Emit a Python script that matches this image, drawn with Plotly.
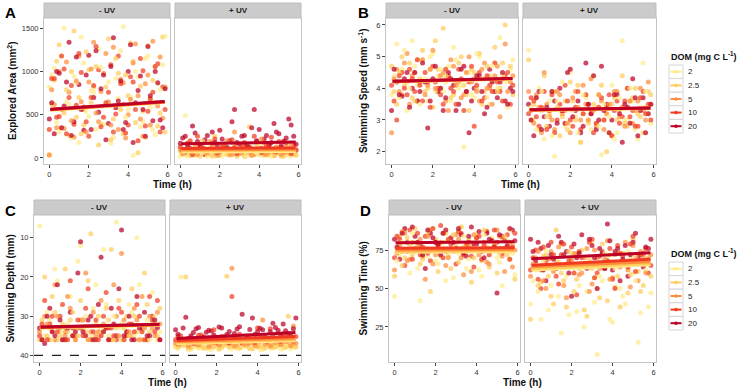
import plotly.graph_objects as go

W, H = 743, 390

dom_levels = ["2", "2.5", "5", "10", "20"]
dom_colors = ["#FFEB8A", "#FECC5C", "#FD8D3C", "#F03B20", "#BD0026"]

# measurement times (h) for the two replicate series
times = [0.0, 0.25, 0.5, 0.75, 1.0, 1.25, 1.5, 1.75, 2.0, 2.25, 2.5, 2.75,
         3.0, 3.25, 3.5, 3.75, 4.0, 4.25, 4.5, 4.75, 5.0, 5.25, 5.5, 5.75]
times_b = [0.12, 0.37, 0.62, 0.87, 1.12, 1.37, 1.62, 1.87, 2.12, 2.37, 2.62, 2.87,
           3.12, 3.37, 3.62, 3.87, 4.12, 4.37, 4.62, 4.87, 5.12, 5.37, 5.62, 5.87]
fit_times = [0.05, 5.85]

# ---------------- A: Explored area (mm2) ----------------
area_minus = {
    "2":   [820, 1040, 300, 1500, 620, 950, 180, 1100, 480, 760, 1260, 390, 880, 240, 690, 1520, 560, 30, 940, 420, 1180, 330, 860, 1080],
    "2.5": [40, 900, 1310, 520, 260, 1470, 700, 380, 1020, 820, 150, 600, 1380, 450, 980, 280, 720, 1120, 60, 540, 1300, 900, 370, 1400],
    "5":   [30, 620, 1000, 340, 760, 240, 1180, 560, 880, 1340, 420, 980, 650, 1280, 330, 870, 500, 1100, 720, 250, 960, 1350, 600, 460],
    "10":  [330, 920, 480, 1030, 700, 390, 1210, 590, 250, 840, 1020, 470, 760, 300, 1180, 620, 380, 880, 200, 1010, 540, 760, 1090, 820],
    "20":  [450, 280, 980, 600, 1340, 420, 850, 320, 1190, 700, 530, 960, 400, 1390, 660, 330, 1000, 180, 780, 560, 1290, 430, 870, 350],
}
area_minus_b = {
    "2":   [960, 410, 1180, 650, 230, 870, 1400, 540, 780, 330, 1050, 620, 170, 920, 1240, 470, 700, 1000, 360, 1150, 590, 270, 790, 1410],
    "2.5": [620, 1120, 350, 790, 1000, 470, 280, 1230, 640, 1060, 390, 820, 210, 1150, 560, 960, 1330, 410, 830, 240, 690, 1060, 520, 300],
    "5":   [790, 350, 560, 1110, 430, 890, 650, 300, 1030, 520, 770, 1210, 380, 600, 910, 230, 680, 1320, 450, 860, 380, 640, 1170, 820],
    "10":  [920, 470, 1180, 280, 840, 610, 990, 420, 700, 1290, 360, 640, 1080, 510, 860, 290, 940, 560, 1150, 370, 680, 1060, 300, 560],
    "20":  [640, 1000, 350, 880, 260, 1170, 560, 960, 330, 1240, 800, 210, 1060, 580, 890, 410, 1310, 640, 950, 250, 720, 1000, 440, 800],
}
area_plus = {
    "2":   [20, 490, 60, 30, 90, 40, 120, 20, 70, 50, 30, 100, 60, 20, 80, 40, 150, 30, 60, 20, 90, 50, 30, 70],
    "2.5": [80, 40, 180, 60, 20, 110, 50, 250, 40, 90, 30, 140, 60, 20, 360, 80, 40, 100, 30, 60, 120, 20, 50, 90],
    "5":   [100, 60, 30, 150, 80, 40, 190, 60, 30, 120, 70, 300, 50, 90, 130, 40, 80, 170, 60, 30, 110, 200, 70, 40],
    "10":  [130, 60, 200, 90, 150, 40, 100, 220, 70, 160, 50, 120, 90, 180, 60, 250, 100, 40, 140, 80, 190, 60, 110, 150],
    "20":  [170, 250, 110, 290, 140, 210, 90, 180, 320, 130, 200, 560, 160, 260, 120, 560, 330, 220, 150, 400, 280, 190, 450, 250],
}
area_plus_b = {
    "2":   [40, 20, 80, 30, 60, 20, 90, 40, 20, 130, 50, 30, 70, 20, 100, 60, 30, 80, 20, 50, 30, 60, 20, 40],
    "2.5": [60, 120, 30, 80, 200, 50, 20, 90, 150, 40, 70, 20, 110, 60, 30, 160, 70, 30, 90, 50, 20, 130, 80, 30],
    "5":   [50, 170, 90, 40, 110, 60, 140, 30, 90, 200, 40, 80, 60, 150, 30, 100, 220, 50, 90, 130, 40, 70, 150, 100],
    "10":  [90, 170, 40, 250, 120, 80, 170, 60, 130, 90, 210, 50, 150, 110, 80, 190, 60, 140, 240, 70, 120, 170, 50, 90],
    "20":  [230, 140, 370, 190, 100, 260, 300, 150, 220, 120, 420, 180, 250, 140, 350, 200, 110, 260, 180, 300, 140, 230, 380, 160],
}
area_fit_minus = {"2": (552, 642), "2.5": (555, 645), "5": (557, 647), "10": (560, 650), "20": (563, 653)}
area_fit_plus = {"2": (68, 74), "2.5": (84, 88), "5": (95, 100), "10": (110, 116), "20": (163, 185)}

# ---------------- B: Swimming speed (mm s-1) ----------------
speed_minus = {
    "2":   [3.8, 5.4, 4.6, 3.3, 5.5, 4.1, 4.9, 3.6, 5.1, 4.4, 3.9, 4.7, 5.3, 4.0, 2.15, 4.5, 3.7, 5.0, 4.3, 3.5, 4.8, 5.6, 4.2, 4.6],
    "2.5": [4.7, 3.5, 5.0, 4.2, 3.7, 4.9, 5.2, 4.0, 3.4, 4.6, 5.9, 4.3, 3.8, 4.8, 4.1, 3.3, 4.5, 5.1, 3.9, 4.4, 5.3, 4.0, 6.0, 4.7],
    "5":   [2.6, 4.6, 3.8, 5.1, 4.4, 3.6, 4.9, 4.1, 5.2, 3.9, 4.5, 3.3, 4.7, 4.2, 3.8, 5.0, 4.3, 3.6, 4.8, 4.0, 4.4, 3.1, 5.4, 4.2],
    "10":  [4.1, 3.0, 4.5, 3.8, 4.3, 4.9, 3.6, 4.2, 4.7, 4.0, 3.5, 4.4, 3.9, 4.6, 3.3, 4.2, 2.8, 4.5, 3.7, 4.1, 4.8, 3.9, 4.4, 3.5],
    "20":  [3.3, 4.2, 3.75, 4.5, 4.0, 3.6, 4.8, 2.75, 4.3, 3.9, 3.3, 4.5, 4.1, 3.5, 4.7, 2.6, 4.0, 4.4, 3.2, 4.6, 3.9, 4.2, 3.6, 4.0],
}
speed_minus_b = {
    "2":   [4.4, 3.7, 5.2, 4.0, 4.7, 3.5, 4.3, 5.0, 3.9, 4.6, 4.2, 3.6, 4.9, 4.1, 4.5, 3.8, 5.1, 4.3, 3.7, 4.7, 4.0, 4.4, 3.4, 4.9],
    "2.5": [3.9, 4.5, 4.1, 4.8, 3.6, 4.3, 3.9, 4.6, 5.5, 4.0, 4.4, 3.7, 4.2, 5.0, 3.8, 4.6, 4.0, 3.5, 4.7, 4.2, 3.9, 4.8, 4.3, 3.8],
    "5":   [4.3, 3.9, 4.8, 3.5, 4.5, 4.2, 3.8, 4.6, 4.0, 4.4, 3.6, 4.9, 4.1, 3.7, 4.5, 4.2, 3.9, 4.6, 4.0, 3.5, 4.7, 4.3, 3.9, 4.4],
    "10":  [3.6, 4.4, 4.0, 4.6, 3.9, 4.1, 4.5, 3.4, 4.2, 3.8, 4.6, 4.0, 3.5, 4.3, 3.9, 4.7, 4.1, 3.6, 4.4, 3.9, 4.2, 3.6, 4.5, 4.1],
    "20":  [4.6, 3.8, 4.3, 3.4, 4.5, 3.9, 4.2, 3.6, 4.7, 4.0, 3.7, 4.3, 3.3, 4.6, 3.9, 3.6, 4.4, 3.9, 3.4, 4.2, 3.7, 4.5, 3.5, 3.9],
}
speed_plus = {
    "2":   [5.2, 3.0, 4.0, 2.4, 3.6, 1.85, 3.3, 2.8, 4.5, 3.1, 2.3, 3.7, 2.7, 3.4, 1.9, 3.2, 4.1, 2.6, 5.5, 3.0, 3.6, 2.4, 4.8, 3.2],
    "2.5": [4.9, 3.5, 2.7, 4.4, 3.2, 3.9, 2.5, 3.6, 4.2, 3.0, 2.3, 3.8, 3.3, 2.9, 4.1, 2.0, 3.5, 3.0, 4.4, 2.8, 3.7, 3.2, 2.6, 3.9],
    "5":   [3.9, 2.9, 3.4, 4.5, 3.1, 2.7, 3.8, 3.3, 2.6, 3.9, 3.0, 3.5, 4.3, 2.8, 3.6, 3.2, 2.5, 3.9, 3.4, 4.0, 2.9, 3.6, 3.3, 4.2],
    "10":  [3.2, 3.6, 2.8, 3.9, 3.3, 2.6, 3.5, 4.1, 3.0, 3.4, 2.7, 3.8, 3.2, 2.9, 3.7, 3.4, 2.5, 3.6, 3.1, 4.0, 3.3, 2.8, 3.9, 3.5],
    "20":  [3.5, 2.5, 3.9, 3.1, 2.8, 3.6, 4.0, 2.9, 4.6, 3.3, 2.6, 4.8, 3.2, 2.7, 4.7, 3.5, 3.0, 3.8, 2.3, 3.4, 4.3, 2.5, 3.7, 3.2],
}
speed_plus_b = {
    "2":   [3.4, 2.7, 3.9, 3.1, 2.5, 3.6, 4.2, 2.9, 3.3, 2.6, 3.8, 3.0, 4.4, 2.8, 3.5, 3.1, 2.4, 3.7, 3.0, 4.0, 2.7, 3.4, 3.9, 2.9],
    "2.5": [3.0, 3.7, 3.3, 2.8, 3.9, 3.4, 3.1, 2.7, 3.6, 4.1, 3.2, 2.9, 3.5, 3.8, 3.0, 2.6, 3.7, 3.3, 2.9, 3.6, 4.0, 3.1, 3.4, 3.8],
    "5":   [3.3, 3.8, 2.6, 3.5, 3.0, 3.9, 3.2, 2.9, 3.7, 3.4, 4.1, 3.0, 3.3, 3.8, 2.7, 3.5, 3.9, 3.1, 2.8, 3.6, 3.3, 4.0, 3.0, 3.5],
    "10":  [3.7, 3.1, 3.4, 2.7, 3.8, 3.0, 3.3, 3.6, 2.8, 3.9, 3.2, 3.5, 2.6, 3.4, 3.0, 3.8, 3.3, 2.9, 3.6, 3.1, 2.8, 3.7, 3.2, 3.0],
    "20":  [3.0, 3.7, 2.7, 3.4, 3.9, 2.9, 3.3, 4.5, 3.1, 3.6, 2.8, 3.5, 4.4, 3.0, 3.3, 2.6, 3.8, 3.2, 3.5, 2.9, 3.7, 3.3, 2.6, 3.5],
}
speed_fit_minus = {"2": (4.20, 4.29), "2.5": (4.21, 4.30), "5": (4.21, 4.30), "10": (4.22, 4.31), "20": (4.22, 4.31)}
speed_fit_plus = {"2": (3.30, 3.36), "2.5": (3.31, 3.37), "5": (3.31, 3.37), "10": (3.32, 3.38), "20": (3.32, 3.38)}

# ---------------- C: Swimming depth (mm) ----------------
depth_minus = {
    "2":   [7, 35, 31, 18, 34, 36, 25, 33, 12, 30, 35, 22, 33, 27, 36, 6, 32, 35, 29, 10, 34, 31, 24, 36],
    "2.5": [36, 20, 33, 29, 35, 18, 31, 36, 26, 34, 9, 32, 35, 28, 13, 33, 36, 30, 23, 34, 36, 27, 32, 35],
    "5":   [34, 30, 36, 22, 33, 35, 28, 36, 31, 19, 34, 35, 26, 33, 36, 30, 14, 34, 35, 31, 25, 36, 33, 29],
    "10":  [35, 26, 32, 36, 30, 34, 21, 35, 33, 28, 36, 31, 35, 24, 33, 36, 29, 35, 32, 27, 34, 36, 31, 26],
    "20":  [33, 37, 28, 35, 31, 36, 29, 34, 11, 35, 30, 36, 15, 33, 28, 35, 8, 34, 36, 25, 33, 35, 30, 33],
}
depth_minus_b = {
    "2":   [33, 29, 36, 21, 34, 32, 35, 16, 31, 36, 28, 34, 13, 35, 30, 33, 36, 27, 35, 22, 33, 36, 30, 34],
    "2.5": [31, 35, 25, 36, 32, 34, 29, 35, 33, 21, 36, 30, 34, 31, 36, 26, 33, 35, 30, 36, 19, 34, 32, 28],
    "5":   [36, 32, 34, 30, 36, 25, 35, 33, 31, 36, 29, 34, 32, 36, 22, 35, 31, 34, 28, 36, 33, 30, 35, 32],
    "10":  [32, 36, 30, 34, 27, 36, 33, 31, 35, 23, 34, 36, 30, 33, 35, 28, 36, 32, 34, 30, 36, 25, 34, 36],
    "20":  [36, 30, 34, 22, 36, 33, 35, 19, 34, 31, 36, 27, 34, 36, 32, 23, 35, 30, 36, 33, 29, 35, 31, 36],
}
depth_plus = {
    "2":   [38, 20, 37.5, 38.5, 37.8, 38.2, 37, 38.5, 37.6, 38.1, 37.3, 38.4, 37.7, 38, 37.2, 38.3, 37.9, 38.5, 37.4, 38.1, 37.8, 38.2, 37.5, 38],
    "2.5": [37.5, 37, 20, 38, 36.8, 37.6, 38.2, 37.2, 36.5, 37.9, 19.8, 37.4, 38.1, 36.9, 37.7, 38.3, 37.1, 37.8, 36.6, 38, 37.3, 37.9, 30, 37.5],
    "5":   [36.8, 37.4, 36.2, 37.9, 36.6, 37.3, 35.8, 37.7, 36.4, 37.1, 36.9, 17.8, 37.5, 36.3, 37.2, 36.7, 37.8, 31, 36.5, 37.4, 36.1, 37, 36.8, 32.5],
    "10":  [36, 35, 36.8, 35.5, 37.2, 34.8, 36.4, 35.9, 37, 35.2, 36.6, 25, 35.7, 36.9, 35.4, 36.2, 33, 35.8, 36.7, 35.1, 36.3, 34.5, 35.9, 36.6],
    "20":  [33.5, 36.2, 30.3, 35, 33.2, 36.5, 34.1, 33.8, 35.6, 33, 34.7, 36, 33.3, 29.5, 35.2, 30.5, 34, 33.5, 35.8, 31.8, 33.6, 32, 34.4, 33.2],
}
depth_plus_b = {
    "2":   [38.3, 37.6, 38.5, 37.9, 38.2, 37.4, 38.4, 37.8, 38.5, 37.5, 38.1, 37.9, 38.4, 37.6, 38.3, 37.8, 38.5, 37.7, 38.2, 37.9, 38.4, 37.6, 38.3, 37.9],
    "2.5": [37.9, 37.3, 38.2, 36.9, 37.7, 38.1, 37.2, 37.9, 38.3, 37.4, 37.8, 36.8, 38.0, 37.5, 38.2, 37.0, 37.7, 38.1, 37.3, 37.8, 36.9, 38.0, 37.4, 37.9],
    "5":   [37.2, 36.5, 37.6, 36.9, 37.3, 36.3, 37.8, 36.8, 37.4, 36.6, 37.0, 37.7, 36.4, 37.2, 36.9, 37.5, 36.5, 37.1, 37.7, 36.7, 37.3, 36.4, 37.6, 36.9],
    "10":  [35.2, 36.5, 35.8, 36.9, 34.9, 36.2, 35.6, 33.5, 36.4, 35.3, 36.8, 35.7, 34.6, 36.1, 35.5, 36.7, 35.0, 36.3, 33.2, 35.9, 36.5, 35.4, 36.0, 35.2],
    "20":  [34.6, 33.0, 35.8, 34.2, 32.9, 35.3, 33.6, 34.8, 32.8, 35.5, 33.9, 34.4, 32.7, 35.9, 33.4, 34.7, 33.1, 35.4, 34.0, 32.9, 35.1, 33.7, 34.9, 30.5],
}
depth_fit_minus = {"2": (33.0, 32.3), "2.5": (32.95, 32.25), "5": (32.9, 32.2), "10": (32.85, 32.15), "20": (32.8, 32.1)}
depth_fit_plus = {"2": (37.0, 36.3), "2.5": (36.8, 36.0), "5": (36.5, 35.7), "10": (36.2, 35.2), "20": (35.7, 34.2)}
depth_limit = 40

# ---------------- D: Swimming time (%) ----------------
swimtime_minus = {
    "2":   [45, 72, 88, 60, 80, 42, 76, 85, 68, 79, 55, 82, 74, 90, 63, 78, 86, 58, 77, 83, 70, 52, 81, 73],
    "2.5": [58, 84, 70, 78, 89, 66, 75, 48, 82, 71, 86, 63, 79, 90, 74, 54, 80, 68, 87, 76, 60, 83, 72, 79],
    "5":   [62, 78, 86, 69, 74, 82, 56, 88, 72, 80, 65, 76, 85, 70, 79, 61, 83, 75, 67, 81, 88, 71, 77, 64],
    "10":  [70, 82, 65, 88, 76, 72, 84, 68, 80, 91, 74, 79, 66, 86, 78, 71, 83, 69, 87, 75, 80, 73, 85, 77],
    "20":  [82, 69, 89, 75, 84, 78, 63, 86, 80, 72, 88, 83, 76, 85, 71, 90, 79, 74, 86, 81, 47, 84, 78, 88],
}
swimtime_minus_b = {
    "2":   [68, 80, 74, 86, 63, 77, 71, 89, 66, 75, 81, 57, 73, 84, 69, 78, 62, 85, 72, 80, 67, 76, 88, 59],
    "2.5": [76, 65, 83, 72, 78, 69, 87, 74, 61, 80, 71, 85, 67, 77, 82, 70, 75, 88, 64, 79, 73, 84, 69, 56],
    "5":   [73, 87, 68, 80, 76, 71, 84, 66, 79, 86, 70, 74, 82, 59, 77, 85, 72, 80, 66, 78, 84, 61, 80, 75],
    "10":  [84, 74, 80, 69, 86, 77, 73, 89, 79, 70, 82, 75, 87, 72, 80, 64, 84, 78, 72, 88, 76, 81, 69, 86],
    "20":  [77, 86, 74, 90, 80, 72, 88, 83, 78, 86, 75, 80, 89, 73, 84, 79, 87, 70, 82, 77, 85, 76, 89, 81],
}
swimtime_plus = {
    "2":   [40, 62, 30, 75, 52, 68, 21, 58, 72, 35, 64, 48, 80, 7, 55, 70, 28, 66, 45, 74, 60, 15, 68, 38],
    "2.5": [30, 66, 54, 72, 45, 88, 60, 38, 70, 56, 75, 32, 63, 50, 79, 42, 67, 58, 73, 47, 82, 61, 52, 70],
    "5":   [58, 70, 62, 50, 74, 66, 79, 44, 68, 72, 60, 76, 53, 70, 64, 81, 57, 73, 67, 62, 78, 55, 71, 69],
    "10":  [62, 75, 50, 68, 80, 58, 72, 65, 77, 46, 70, 63, 82, 60, 74, 68, 56, 78, 71, 64, 84, 66, 73, 60],
    "20":  [82, 68, 76, 55, 72, 63, 80, 74, 45, 70, 85, 66, 78, 50, 73, 92, 62, 76, 69, 58, 80, 71, 64, 76],
}
swimtime_plus_b = {
    "2":   [55, 48, 68, 36, 62, 45, 71, 33, 60, 52, 25, 66, 41, 58, 73, 30, 63, 50, 40, 69, 55, 34, 62, 47],
    "2.5": [64, 52, 71, 58, 40, 67, 55, 74, 48, 63, 36, 69, 57, 44, 66, 72, 51, 38, 65, 59, 71, 48, 66, 58],
    "5":   [66, 74, 55, 69, 61, 77, 52, 66, 73, 59, 70, 48, 75, 63, 69, 56, 72, 64, 80, 51, 68, 74, 60, 72],
    "10":  [70, 56, 77, 64, 72, 53, 79, 68, 60, 74, 66, 80, 57, 71, 63, 76, 50, 73, 66, 79, 61, 72, 76, 65],
    "20":  [74, 80, 62, 78, 69, 84, 72, 60, 79, 73, 66, 82, 70, 76, 63, 81, 74, 55, 78, 72, 86, 68, 77, 82],
}
swimtime_fit_minus = {"2": (73.5, 74.0), "2.5": (74.1, 74.6), "5": (75.0, 75.4), "10": (76.1, 76.5), "20": (79.8, 80.4)}
swimtime_fit_plus = {"2": (62.0, 65.4), "2.5": (62.8, 66.3), "5": (64.1, 67.4), "10": (65.2, 69.0), "20": (69.3, 73.2)}

x_ticks = [0, 2, 4, 6]
x_range = [-0.27, 6.12]


def fx(px):
    return px / W


def fy(py):
    return 1 - py / H


panels = [
    dict(letter="A", ytitle="Explored Area (mm<sup>2</sup>)",
         minus=(area_minus, area_minus_b), plus=(area_plus, area_plus_b),
         fm=area_fit_minus, fp=area_fit_plus, yrange=[-70, 1620], yticks=[0, 500, 1000, 1500],
         fac=[(44, 170), (175, 301)], ytop=18, ybot=164, lpos=(10, 13), ytx=12, tty=184),
    dict(letter="B", ytitle="Swimming Speed (mm s<sup>-1</sup>)",
         minus=(speed_minus, speed_minus_b), plus=(speed_plus, speed_plus_b),
         fm=speed_fit_minus, fp=speed_fit_plus, yrange=[1.61, 6.22], yticks=[2, 3, 4, 5, 6],
         fac=[(386, 518), (523, 656)], ytop=18, ybot=164, lpos=(363, 13), ytx=363, tty=184),
    dict(letter="C", ytitle="Swimming Depth (mm)",
         minus=(depth_minus, depth_minus_b), plus=(depth_plus, depth_plus_b),
         fm=depth_fit_minus, fp=depth_fit_plus, yrange=[41.7, 4.2], yticks=[10, 20, 30, 40],
         fac=[(34, 165), (170, 301)], ytop=215, ybot=362, lpos=(10, 210), ytx=10, tty=382),
    dict(letter="D", ytitle="Swimming Time (%)",
         minus=(swimtime_minus, swimtime_minus_b), plus=(swimtime_plus, swimtime_plus_b),
         fm=swimtime_fit_minus, fp=swimtime_fit_plus, yrange=[2.2, 97.8], yticks=[25, 50, 75],
         fac=[(389, 520), (525, 656)], ytop=215, ybot=362, lpos=(365, 210), ytx=363, tty=382),
]

FONT = "Liberation Sans, Arial, sans-serif"
fig = go.Figure()
layout = dict(
    width=W, height=H, margin=dict(l=0, r=0, t=0, b=0),
    paper_bgcolor="white", plot_bgcolor="white", showlegend=False,
    font=dict(family=FONT, color="#222"),
)
shapes = []
annotations = []

ax = 0
for p in panels:
    for fi, (reps, fits, strip) in enumerate([(p["minus"], p["fm"], "- UV"), (p["plus"], p["fp"], "+ UV")]):
        ax += 1
        xa = "x" if ax == 1 else f"x{ax}"
        ya = "y" if ax == 1 else f"y{ax}"
        xk = "xaxis" if ax == 1 else f"xaxis{ax}"
        yk = "yaxis" if ax == 1 else f"yaxis{ax}"
        x0, x1 = p["fac"][fi]
        layout[xk] = dict(
            domain=[fx(x0), fx(x1)], anchor=ya, range=x_range, tickvals=x_ticks,
            showgrid=False, zeroline=False, showline=True, mirror=True,
            linecolor="#C4C4C4", linewidth=1, ticks="outside", ticklen=3,
            tickcolor="#444", tickfont=dict(size=7.5, color="#333", family=FONT),
        )
        layout[yk] = dict(
            domain=[fy(p["ybot"]), fy(p["ytop"])], anchor=xa, range=p["yrange"],
            tickvals=p["yticks"], showgrid=False, zeroline=False, showline=True,
            mirror=True, linecolor="#C4C4C4", linewidth=1,
            ticks="outside" if fi == 0 else "", ticklen=3, tickcolor="#444",
            showticklabels=(fi == 0), tickfont=dict(size=7.5, color="#333", family=FONT),
        )
        for tvals, data in zip([times, times_b], reps):
            for lvl, col in zip(dom_levels, dom_colors):
                fig.add_trace(go.Scatter(
                    x=tvals, y=data[lvl], mode="markers", xaxis=xa, yaxis=ya,
                    marker=dict(size=5, color=col, opacity=0.72, line=dict(width=0)),
                    hoverinfo="skip", showlegend=False,
                ))
        for lvl, col in zip(dom_levels, dom_colors):
            fig.add_trace(go.Scatter(
                x=fit_times, y=list(fits[lvl]), mode="lines", xaxis=xa, yaxis=ya,
                line=dict(color=col, width=3), hoverinfo="skip", showlegend=False,
            ))
        shapes.append(dict(type="rect", xref="paper", yref="paper",
                           x0=fx(x0), x1=fx(x1), y0=fy(p["ytop"]), y1=fy(p["ytop"] - 15),
                           fillcolor="#CBCBCB", line=dict(color="#BDBDBD", width=1), layer="below"))
        annotations.append(dict(text=f"<b>{strip}</b>", xref="paper", yref="paper",
                                x=fx((x0 + x1) / 2), y=fy(p["ytop"] - 7.5), showarrow=False,
                                font=dict(size=8, color="#222", family=FONT),
                                xanchor="center", yanchor="middle"))
        if p["letter"] == "C":
            shapes.append(dict(type="line", xref=f"{xa} domain", yref=ya, x0=0, x1=1,
                               y0=depth_limit, y1=depth_limit,
                               line=dict(color="#222", width=1.2, dash="dash")))
    annotations.append(dict(text=f"<b>{p['letter']}</b>", xref="paper", yref="paper",
                            x=fx(p["lpos"][0]), y=fy(p["lpos"][1]), showarrow=False,
                            font=dict(size=15, color="#000", family=FONT),
                            xanchor="center", yanchor="middle"))
    annotations.append(dict(text=f"<b>{p['ytitle']}</b>", xref="paper", yref="paper",
                            x=fx(p["ytx"]), y=fy((p["ytop"] + p["ybot"]) / 2), showarrow=False,
                            textangle=-90, font=dict(size=10, color="#111", family=FONT),
                            xanchor="center", yanchor="middle"))
    xc = (p["fac"][0][1] + p["fac"][1][0]) / 2
    annotations.append(dict(text="<b>Time (h)</b>", xref="paper", yref="paper",
                            x=fx(xc), y=fy(p["tty"]), showarrow=False,
                            font=dict(size=10, color="#111", family=FONT),
                            xanchor="center", yanchor="middle"))

for title_y in [56, 253]:
    annotations.append(dict(text="<b>DOM (mg C L<sup>-1</sup>)</b>", xref="paper", yref="paper",
                            x=fx(669), y=fy(title_y), showarrow=False,
                            font=dict(size=9, color="#111", family=FONT),
                            xanchor="left", yanchor="middle"))
    top = title_y + 9
    for i, (lvl, col) in enumerate(zip(dom_levels, dom_colors)):
        ky0 = top + i * 13.6
        ky1 = ky0 + 13.6
        kc = (ky0 + ky1) / 2
        shapes.append(dict(type="rect", xref="paper", yref="paper", x0=fx(669), x1=fx(683),
                           y0=fy(ky1), y1=fy(ky0), fillcolor="white",
                           line=dict(color="#D5D5D5", width=1)))
        shapes.append(dict(type="line", xref="paper", yref="paper", x0=fx(670.5), x1=fx(681.5),
                           y0=fy(kc), y1=fy(kc), line=dict(color=col, width=2)))
        shapes.append(dict(type="circle", xref="paper", yref="paper", x0=fx(674.5), x1=fx(677.5),
                           y0=fy(kc + 1.5), y1=fy(kc - 1.5), fillcolor=col,
                           line=dict(color=col, width=0.5)))
        annotations.append(dict(text=lvl, xref="paper", yref="paper", x=fx(686), y=fy(kc),
                                showarrow=False, font=dict(size=8, color="#222", family=FONT),
                                xanchor="left", yanchor="middle"))

layout["shapes"] = shapes
layout["annotations"] = annotations
fig.update_layout(**layout)
fig.write_html(
    "out.html",
    config={"displayModeBar": False},
    post_script="document.body.style.margin='0';document.body.style.overflow='hidden';",
)
